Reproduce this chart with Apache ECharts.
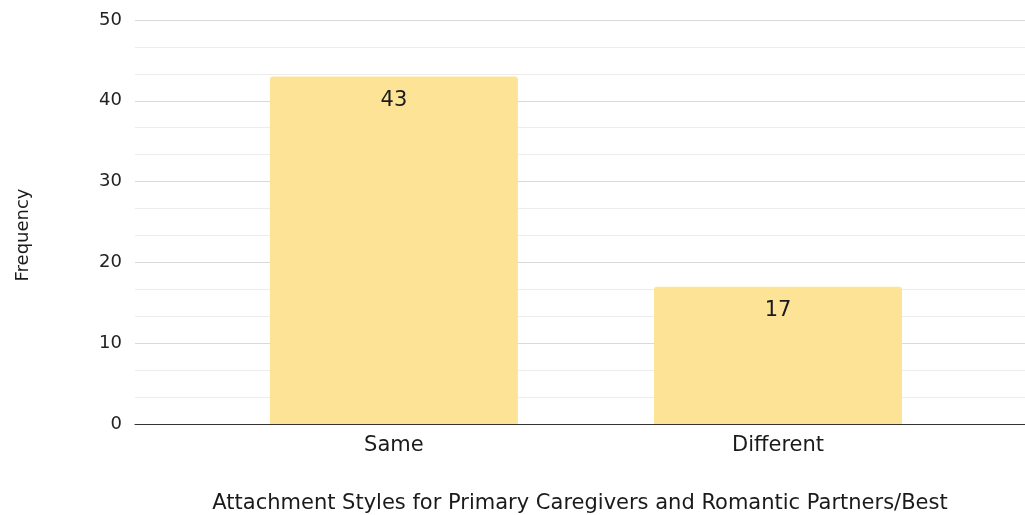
<!DOCTYPE html>
<html>
<head>
<meta charset="utf-8">
<script src="https://cdn.jsdelivr.net/npm/echarts@6/dist/echarts.min.js"></script>
<style>
  html, body { margin: 0; padding: 0; background: #fff; }
  #chart { width: 1025px; height: 515px; }
</style>
</head>
<body>
<div id="chart"></div>
<script>
// Attachment style frequencies
const categories = ['Same', 'Different'];
const frequencies = [43, 17];
const yTicks = [0, 10, 20, 30, 40, 50];

const chart = echarts.init(document.getElementById('chart'));

// Bars sit at positions 0 and 1 on a numeric x scale so the plot can
// extend past the outer bars on both sides.
const barData = frequencies.map((v, i) => [i, v]);

chart.setOption({
  animation: false,
  textStyle: { fontFamily: 'DejaVu Sans, Arial, sans-serif' },
  grid: { left: 135, right: 0, top: 20, bottom: 91, outerBoundsMode: 'none', containLabel: false },
  xAxis: {
    type: 'value',
    min: -0.674,
    max: 1.643,
    name: 'Attachment Styles for Primary Caregivers and Romantic Partners/Best',
    nameLocation: 'middle',
    nameGap: 69,
    nameTextStyle: { fontSize: 21, color: '#1a1a1a' },
    axisLine: { show: true, onZero: false, lineStyle: { color: '#333', width: 1 } },
    axisTick: { show: false },
    splitLine: { show: false },
    axisLabel: {
      customValues: categories.map((_, i) => i),
      formatter: v => categories[Math.round(v)] || '',
      fontSize: 21,
      color: '#1a1a1a',
      margin: 11
    }
  },
  yAxis: {
    type: 'value',
    min: yTicks[0],
    max: yTicks[yTicks.length - 1],
    interval: 10,
    name: 'Frequency',
    nameLocation: 'middle',
    nameGap: 103,
    nameRotate: 90,
    nameTextStyle: { fontSize: 18, color: '#1a1a1a', padding: [0, 26, 0, 0] },
    axisLine: { show: false },
    axisTick: { show: false },
    axisLabel: { fontSize: 18, color: '#222', margin: 13 },
    splitLine: { show: true, lineStyle: { color: '#d9d9d9', width: 1 } },
    minorTick: { show: false, splitNumber: 3 },
    minorSplitLine: { show: true, lineStyle: { color: '#ececec', width: 1 } }
  },
  series: [{
    type: 'bar',
    data: barData,
    barWidth: 248,
    itemStyle: { color: '#fde395', borderRadius: [3, 3, 0, 0] },
    label: {
      show: true,
      position: 'insideTop',
      distance: 13,
      fontSize: 21,
      color: '#1a1a1a',
      formatter: p => p.value[1]
    }
  }]
});
</script>
</body>
</html>
